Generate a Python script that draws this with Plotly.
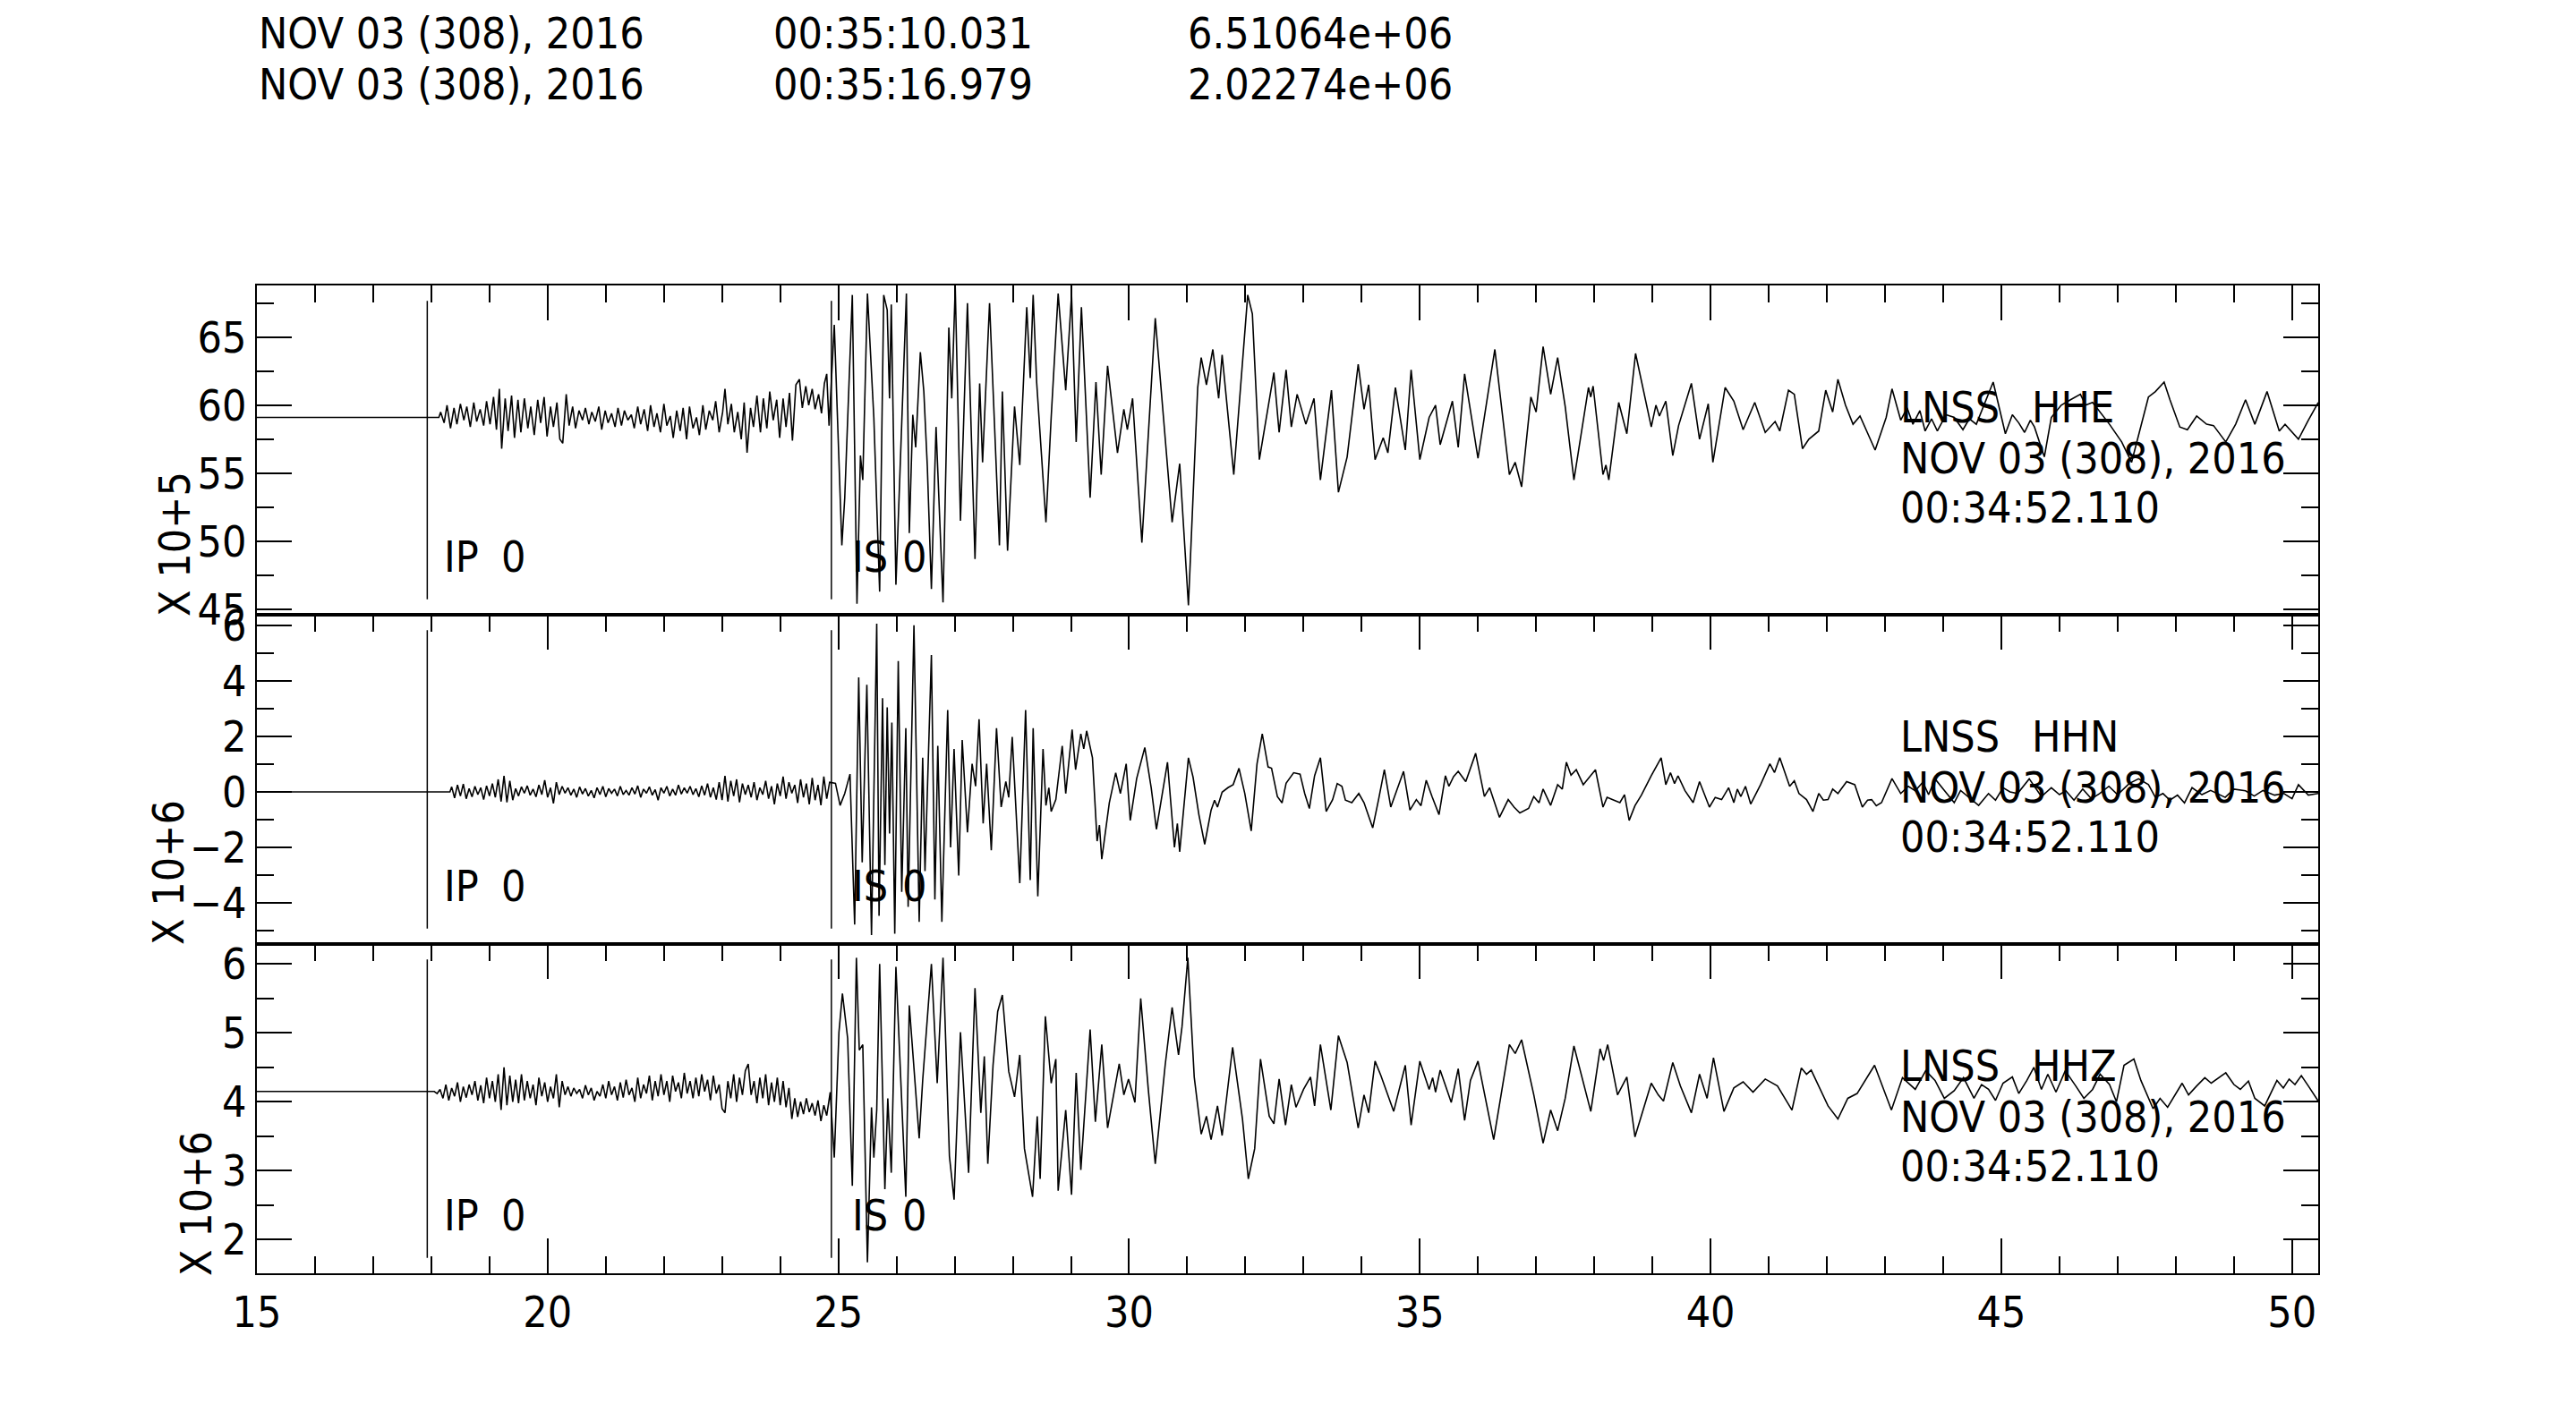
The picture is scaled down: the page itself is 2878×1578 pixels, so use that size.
import plotly.graph_objects as go

# SAC-style three component record, LNSS station

# header: picked times and amplitudes
pick_dates = ["NOV 03 (308), 2016", "NOV 03 (308), 2016"]
pick_times = ["00:35:10.031", "00:35:16.979"]
pick_amps = ["6.51064e+06", "2.02274e+06"]

station = "LNSS"
channels = ["HHE", "HHN", "HHZ"]
ref_date = "NOV 03 (308), 2016"
ref_time = "00:34:52.110"
scale_labels = ["X 10+5", "X 10+6", "X 10+6"]

p_pick = 17.93
s_pick = 24.88

# (time s, amplitude in axis units)
hhe = [
    (15.00, 59.1), (18.13, 59.1),
    (18.16, 59.5), (18.22, 58.7), (18.27, 60.0), (18.33, 58.3), (18.39, 59.8), (18.44, 58.6), (18.50, 60.1),
    (18.56, 58.9), (18.61, 59.9), (18.67, 58.4), (18.73, 60.2), (18.78, 58.8), (18.84, 59.7), (18.90, 58.5),
    (18.95, 60.3), (19.01, 58.6), (19.07, 60.6), (19.12, 58.2), (19.17, 61.2), (19.21, 56.8), (19.27, 60.5),
    (19.32, 58.1), (19.38, 60.7), (19.43, 57.6), (19.49, 60.4), (19.54, 58.0), (19.60, 60.5), (19.66, 58.3),
    (19.71, 59.9), (19.77, 57.8), (19.83, 60.4), (19.88, 58.7), (19.94, 60.6), (19.99, 57.7), (20.05, 59.9),
    (20.10, 58.4), (20.16, 60.2), (20.21, 57.5), (20.26, 57.2), (20.32, 60.8), (20.37, 58.5), (20.43, 59.9),
    (20.48, 58.3), (20.54, 59.6), (20.60, 58.9), (20.65, 59.8), (20.71, 58.6), (20.76, 59.5), (20.82, 58.8),
    (20.88, 59.9), (20.93, 58.2), (20.99, 59.6), (21.04, 58.7), (21.10, 59.4), (21.16, 58.4), (21.21, 59.8),
    (21.27, 58.5), (21.32, 59.6), (21.38, 58.9), (21.44, 59.3), (21.49, 58.3), (21.55, 59.9), (21.60, 58.6),
    (21.66, 59.7), (21.72, 58.1), (21.77, 60.0), (21.83, 58.4), (21.88, 59.4), (21.94, 58.0), (22.00, 60.1),
    (22.05, 58.5), (22.11, 59.2), (22.16, 57.6), (22.22, 59.6), (22.28, 58.1), (22.33, 59.8), (22.39, 57.5),
    (22.44, 59.9), (22.50, 58.3), (22.56, 59.1), (22.61, 57.8), (22.67, 60.0), (22.72, 58.2), (22.78, 59.6),
    (22.84, 58.9), (22.89, 60.3), (22.95, 58.0), (23.01, 59.5), (23.05, 61.2), (23.10, 58.6), (23.16, 60.1),
    (23.21, 58.0), (23.27, 59.5), (23.33, 57.5), (23.38, 60.2), (23.43, 56.5), (23.49, 59.8), (23.54, 58.4),
    (23.60, 60.7), (23.66, 58.0), (23.71, 60.5), (23.77, 58.3), (23.82, 61.0), (23.88, 58.9), (23.94, 60.4),
    (23.99, 57.6), (24.05, 60.5), (24.10, 58.4), (24.16, 60.9), (24.21, 57.4), (24.27, 61.5), (24.33, 61.9),
    (24.38, 59.8), (24.44, 61.4), (24.49, 60.0), (24.55, 61.2), (24.60, 59.7), (24.66, 60.8), (24.71, 59.4),
    (24.76, 61.6), (24.80, 62.3), (24.84, 58.5),
    (24.93, 65.9), (25.06, 49.7), (25.11, 53.2), (25.24, 68.1), (25.32, 45.4), (25.38, 56.3), (25.42, 54.5),
    (25.50, 68.2), (25.61, 59.1), (25.71, 46.3), (25.78, 68.1), (25.84, 67.0), (25.88, 60.5), (25.91, 67.4),
    (25.99, 46.8), (26.17, 68.2), (26.22, 50.6), (26.28, 59.3), (26.33, 56.9), (26.41, 63.9), (26.47, 61.0),
    (26.53, 55.5), (26.60, 46.5), (26.68, 58.4), (26.80, 45.5), (26.90, 65.7), (26.95, 60.5), (27.01, 68.7),
    (27.10, 51.5), (27.22, 67.5), (27.35, 48.7), (27.43, 61.6), (27.48, 55.8), (27.60, 67.5), (27.77, 49.7),
    (27.82, 61.0), (27.91, 49.3), (28.03, 59.9), (28.12, 55.6), (28.24, 67.2), (28.30, 62.0), (28.35, 68.1),
    (28.41, 61.7), (28.57, 51.4), (28.66, 59.1), (28.78, 68.2), (28.91, 61.1), (29.01, 68.1), (29.09, 57.3),
    (29.18, 67.2), (29.33, 53.2), (29.43, 61.7), (29.52, 54.9), (29.63, 62.9), (29.80, 56.5), (29.91, 59.7),
    (29.97, 58.2), (30.06, 60.5), (30.22, 49.9), (30.45, 66.4), (30.74, 51.4), (30.87, 55.7), (31.02, 45.3),
    (31.18, 61.3), (31.24, 63.5), (31.33, 61.5), (31.44, 64.1), (31.54, 60.5), (31.60, 63.7), (31.80, 54.9),
    (32.04, 68.1), (32.12, 66.7), (32.24, 56.0), (32.49, 62.4), (32.58, 58.0), (32.70, 62.6), (32.79, 58.4),
    (32.89, 60.8), (33.04, 58.6), (33.18, 60.5), (33.29, 54.5), (33.48, 61.1), (33.60, 53.6), (33.75, 56.2),
    (33.94, 63.0), (34.04, 59.7), (34.12, 61.5), (34.23, 56.0), (34.37, 57.6), (34.45, 56.5), (34.58, 61.3),
    (34.75, 56.7), (34.85, 62.6), (35.00, 56.0), (35.16, 59.1), (35.27, 60.0), (35.35, 57.1), (35.56, 60.3),
    (35.66, 56.9), (35.77, 62.3), (36.00, 56.1), (36.29, 64.1), (36.54, 54.9), (36.64, 55.8), (36.75, 54.0),
    (36.91, 60.6), (37.00, 59.5), (37.12, 64.3), (37.25, 60.8), (37.37, 63.5), (37.50, 59.9),
    (37.65, 54.5), (37.90, 61.3), (37.94, 60.6), (37.98, 61.4), (38.15, 54.9), (38.20, 55.6), (38.25, 54.5),
    (38.42, 60.2), (38.56, 57.9), (38.71, 63.8), (38.98, 58.4), (39.06, 60.0), (39.12, 59.2), (39.23, 60.3),
    (39.35, 56.3), (39.45, 58.5), (39.67, 61.6), (39.81, 57.5), (39.96, 60.1), (40.04, 55.8), (40.25, 61.3),
    (40.40, 60.3), (40.56, 58.2), (40.76, 60.2), (40.94, 58.0), (41.11, 58.8), (41.19, 58.1), (41.34, 61.1),
    (41.44, 60.8), (41.58, 56.8), (41.69, 57.5), (41.86, 58.1), (41.98, 61.1), (42.10, 59.5), (42.19, 61.9),
    (42.32, 60.0), (42.45, 58.6), (42.57, 59.2), (42.83, 56.7), (43.02, 59.1), (43.12, 61.2), (43.27, 58.9),
    (43.38, 59.8), (43.48, 58.6), (43.60, 59.6), (43.69, 58.1), (43.80, 59.0), (43.90, 58.1), (44.05, 59.3),
    (44.19, 59.1), (44.34, 58.2), (44.45, 59.0), (44.57, 58.6), (44.86, 61.7), (45.07, 57.9), (45.19, 59.3),
    (45.30, 58.7), (45.40, 58.0), (45.50, 58.9), (45.57, 58.4), (45.74, 56.2), (45.86, 59.1), (46.03, 60.0),
    (46.19, 60.4), (46.36, 60.8), (46.45, 60.0), (46.57, 60.2), (46.86, 58.6), (47.07, 57.3), (47.24, 55.8),
    (47.36, 57.8), (47.53, 60.6), (47.65, 61.0), (47.80, 61.7), (47.90, 60.4), (48.07, 58.4), (48.20, 58.2),
    (48.36, 59.2), (48.53, 58.6), (48.65, 58.5), (48.86, 57.3), (49.03, 58.6), (49.20, 60.4), (49.36, 58.6),
    (49.57, 61.0), (49.78, 58.1), (49.88, 58.6), (49.99, 58.1), (50.11, 57.5), (50.28, 58.9), (50.45, 60.2),
]

hhn = [
    (15.00, 0.0), (18.32, 0.0),
    (18.35, 0.18), (18.40, -0.22), (18.45, 0.25), (18.50, -0.15), (18.55, 0.28), (18.60, -0.25), (18.65, 0.12),
    (18.70, -0.18), (18.75, 0.20), (18.80, -0.10), (18.85, 0.15), (18.90, -0.28), (18.95, 0.22), (19.00, -0.15),
    (19.05, 0.30), (19.10, -0.20), (19.15, 0.45), (19.20, -0.35), (19.25, 0.58), (19.30, -0.38), (19.35, 0.40),
    (19.40, -0.30), (19.45, 0.12), (19.50, -0.15), (19.55, 0.18), (19.60, -0.05), (19.65, 0.22), (19.70, -0.12),
    (19.75, 0.10), (19.80, -0.18), (19.85, 0.25), (19.90, -0.10), (19.95, 0.42), (20.00, -0.20), (20.05, 0.15),
    (20.10, -0.42), (20.15, 0.35), (20.20, -0.10), (20.25, 0.20), (20.30, -0.05), (20.35, 0.15), (20.40, -0.12),
    (20.45, 0.10), (20.50, -0.20), (20.55, 0.18), (20.60, -0.08), (20.65, 0.12), (20.70, -0.15), (20.75, 0.05),
    (20.80, -0.22), (20.85, 0.15), (20.90, -0.10), (20.95, 0.20), (21.00, -0.18), (21.05, 0.12), (21.10, -0.05),
    (21.15, 0.10), (21.20, -0.15), (21.25, 0.20), (21.30, -0.10), (21.35, 0.05), (21.40, -0.12), (21.45, 0.15),
    (21.50, -0.08), (21.55, 0.22), (21.60, -0.20), (21.65, 0.10), (21.70, -0.05), (21.75, 0.18), (21.80, -0.12),
    (21.85, 0.08), (21.90, -0.30), (21.95, 0.15), (22.00, -0.05), (22.05, 0.20), (22.10, -0.15), (22.15, 0.10),
    (22.20, -0.12), (22.25, 0.25), (22.30, -0.08), (22.35, 0.15), (22.40, -0.05), (22.45, 0.20), (22.50, -0.10),
    (22.55, 0.12), (22.60, -0.18), (22.65, 0.22), (22.70, -0.12), (22.75, 0.30), (22.80, -0.20), (22.85, 0.15),
    (22.90, -0.28), (22.95, 0.35), (23.00, -0.30), (23.05, 0.58), (23.10, -0.35), (23.15, 0.40), (23.20, -0.15),
    (23.25, 0.45), (23.30, -0.38), (23.35, 0.30), (23.40, -0.10), (23.45, 0.25), (23.50, -0.20), (23.55, 0.35),
    (23.60, -0.30), (23.65, 0.15), (23.70, -0.10), (23.75, 0.40), (23.80, -0.25), (23.85, 0.20), (23.90, -0.45),
    (23.95, 0.30), (24.00, -0.15), (24.05, 0.55), (24.10, -0.25), (24.15, 0.35), (24.20, -0.05), (24.25, 0.25),
    (24.30, -0.40), (24.35, 0.45), (24.40, -0.20), (24.45, 0.30), (24.50, -0.45), (24.55, 0.50), (24.60, -0.30),
    (24.65, 0.25), (24.70, -0.48), (24.75, 0.55), (24.80, -0.25), (24.85, 0.35),
    (24.95, 0.31), (25.03, -0.49), (25.11, -0.06), (25.20, 0.64), (25.28, -4.79), (25.35, 4.13), (25.41, -2.54),
    (25.49, 3.86), (25.57, -5.17), (25.66, 6.07), (25.70, -4.47), (25.76, 3.38), (25.80, -2.64), (25.84, 3.05),
    (25.88, -1.50), (25.92, 2.50), (25.97, -5.12), (26.03, 4.72), (26.09, -3.61), (26.16, 2.30), (26.20, -4.15),
    (26.30, 6.01), (26.39, -4.69), (26.45, 1.23), (26.49, -2.86), (26.60, 4.94), (26.66, -3.88), (26.71, 1.66),
    (26.78, -4.69), (26.88, 2.95), (26.93, -2.00), (26.99, 1.55), (27.07, -3.02), (27.13, 1.87), (27.22, -1.46),
    (27.30, 1.01), (27.36, 0.20), (27.42, 2.62), (27.49, -1.14), (27.55, 1.01), (27.63, -2.11), (27.72, 2.30),
    (27.80, -0.55), (27.88, 0.37), (27.93, -0.20), (27.99, 1.98), (28.12, -3.29), (28.22, 2.95), (28.30, -3.18),
    (28.35, 2.30), (28.43, -3.77), (28.52, 1.55), (28.57, -0.49), (28.62, 0.15), (28.66, -0.71), (28.74, -0.28),
    (28.85, 1.66), (28.91, -0.06), (29.02, 2.25), (29.08, 0.80), (29.17, 2.09), (29.22, 1.55), (29.27, 2.20),
    (29.37, 1.23), (29.45, -1.78), (29.49, -1.20), (29.53, -2.43), (29.66, -0.39), (29.77, 0.69), (29.85, -0.06),
    (29.95, 1.01), (30.02, -1.03), (30.13, 0.48), (30.27, 1.60), (30.38, 0.15), (30.47, -1.35), (30.55, -0.28),
    (30.66, 1.07), (30.78, -2.00), (30.83, -1.14), (30.87, -2.16), (31.02, 1.23), (31.10, 0.53), (31.20, -0.82),
    (31.30, -1.89), (31.41, -0.66), (31.47, -0.30), (31.52, -0.55), (31.60, -0.01), (31.70, 0.15), (31.79, 0.26),
    (31.89, 0.85), (31.99, -0.06), (32.10, -1.41), (32.20, 1.01), (32.29, 2.09), (32.39, 0.90), (32.45, 0.85),
    (32.55, -0.17), (32.63, -0.40), (32.70, 0.31), (32.83, 0.69), (32.94, 0.64), (33.02, -0.06), (33.10, -0.60),
    (33.19, 0.58), (33.29, 1.23), (33.39, -0.71), (33.50, -0.28), (33.58, 0.30), (33.66, 0.20), (33.72, -0.30),
    (33.83, -0.39), (33.95, -0.06), (34.04, -0.39), (34.19, -1.30), (34.29, -0.28), (34.39, 0.80), (34.50, -0.55),
    (34.60, 0.04), (34.72, 0.74), (34.83, -0.66), (34.94, -0.28), (35.02, -0.50), (35.11, 0.42), (35.21, -0.17),
    (35.33, -0.82), (35.44, 0.58), (35.50, 0.20), (35.58, 0.55), (35.66, 0.74), (35.79, 0.37), (35.96, 1.39),
    (36.11, -0.17), (36.20, 0.15), (36.37, -0.92), (36.52, -0.28), (36.62, -0.55), (36.72, -0.76), (36.87, -0.60),
    (36.96, -0.17), (37.05, -0.40), (37.12, 0.10), (37.25, -0.49), (37.37, 0.26), (37.45, 0.10), (37.52, 1.07),
    (37.60, 0.60), (37.69, 0.80), (37.81, 0.26), (37.90, 0.50), (38.02, 0.80), (38.15, -0.55), (38.22, -0.20),
    (38.31, -0.28), (38.44, -0.39), (38.52, -0.10), (38.60, -1.03), (38.70, -0.50), (38.81, -0.12), (38.98, 0.58),
    (39.15, 1.23), (39.23, 0.26), (39.31, 0.69), (39.38, 0.30), (39.44, 0.58), (39.56, 0.04), (39.70, -0.39),
    (39.81, 0.37), (39.98, -0.55), (40.08, -0.20), (40.19, -0.28), (40.31, 0.15), (40.40, -0.39), (40.46, 0.10),
    (40.52, -0.17), (40.60, 0.20), (40.69, -0.44), (40.86, 0.26), (41.02, 1.01), (41.10, 0.70), (41.19, 1.23),
    (41.36, 0.20), (41.44, 0.40), (41.52, -0.06), (41.65, -0.28), (41.76, -0.71), (41.86, -0.06), (41.94, -0.30),
    (42.02, -0.28), (42.10, 0.10), (42.19, -0.06), (42.34, 0.37), (42.48, 0.26), (42.61, -0.55), (42.70, -0.30),
    (42.77, -0.28), (42.85, -0.50), (42.94, -0.39), (43.12, 0.48), (43.27, -0.06), (43.40, 0.20), (43.52, 0.04),
    (43.65, 0.35), (43.75, -0.10), (43.86, 0.47), (44.00, 0.10), (44.19, -0.39), (44.30, 0.05), (44.45, -0.20),
    (44.61, -0.49), (44.78, -0.06), (44.90, -0.30), (45.03, 0.15), (45.15, 0.00), (45.28, -0.06), (45.48, 0.47),
    (45.69, -0.17), (45.86, 0.15), (46.00, -0.10), (46.11, 0.04), (46.25, -0.30), (46.40, 0.10), (46.55, -0.25),
    (46.69, -0.06), (46.85, 0.20), (47.00, -0.10), (47.20, 0.30), (47.36, 0.47), (47.53, 0.26), (47.65, -0.20),
    (47.78, -0.06), (47.90, -0.30), (48.03, -0.12), (48.15, -0.40), (48.28, 0.15), (48.45, -0.10), (48.60, 0.05),
    (48.70, -0.06), (48.85, -0.20), (49.00, 0.10), (49.20, 0.04), (49.35, -0.15), (49.50, 0.05), (49.70, -0.12),
    (49.86, -0.06), (50.00, -0.25), (50.11, 0.26), (50.28, -0.12), (50.45, -0.06),
]

hhz = [
    (15.00, 4.15), (18.01, 4.15),
    (18.05, 4.15), (18.10, 4.12), (18.15, 4.18), (18.20, 4.05), (18.25, 4.25), (18.30, 4.02), (18.35, 4.20),
    (18.40, 4.08), (18.45, 4.28), (18.50, 4.00), (18.55, 4.22), (18.60, 4.06), (18.65, 4.25), (18.70, 4.10),
    (18.75, 4.30), (18.80, 4.02), (18.85, 4.24), (18.90, 3.98), (18.95, 4.35), (19.00, 4.05), (19.05, 4.30),
    (19.10, 4.00), (19.15, 4.40), (19.20, 3.88), (19.25, 4.50), (19.30, 3.95), (19.35, 4.38), (19.40, 4.00),
    (19.45, 4.32), (19.50, 3.98), (19.55, 4.40), (19.60, 4.02), (19.65, 4.30), (19.70, 4.05), (19.75, 4.25),
    (19.80, 3.95), (19.85, 4.35), (19.90, 4.08), (19.95, 4.28), (20.00, 4.00), (20.05, 4.22), (20.10, 4.05),
    (20.15, 4.40), (20.20, 3.92), (20.25, 4.30), (20.30, 4.10), (20.35, 4.22), (20.40, 4.08), (20.45, 4.20),
    (20.50, 4.12), (20.55, 4.18), (20.60, 4.05), (20.65, 4.24), (20.70, 4.10), (20.75, 4.20), (20.80, 4.02),
    (20.85, 4.15), (20.90, 4.08), (20.95, 4.25), (21.00, 4.05), (21.05, 4.30), (21.10, 4.10), (21.15, 4.22),
    (21.20, 4.02), (21.25, 4.28), (21.30, 4.06), (21.35, 4.32), (21.40, 4.10), (21.45, 4.20), (21.50, 4.00),
    (21.55, 4.35), (21.60, 4.05), (21.65, 4.25), (21.70, 4.12), (21.75, 4.38), (21.80, 4.02), (21.85, 4.30),
    (21.90, 4.08), (21.95, 4.40), (22.00, 4.10), (22.05, 4.30), (22.10, 4.00), (22.15, 4.38), (22.20, 4.15),
    (22.25, 4.28), (22.30, 4.05), (22.35, 4.42), (22.40, 4.12), (22.45, 4.30), (22.50, 4.05), (22.55, 4.35),
    (22.60, 4.08), (22.65, 4.40), (22.70, 4.15), (22.75, 4.32), (22.80, 4.02), (22.85, 4.38), (22.90, 4.12),
    (22.95, 4.25), (23.00, 3.90), (23.05, 3.84), (23.10, 4.30), (23.15, 4.05), (23.20, 4.40), (23.25, 4.00),
    (23.30, 4.35), (23.35, 4.10), (23.40, 4.45), (23.45, 4.55), (23.50, 4.10), (23.55, 4.30), (23.60, 3.98),
    (23.65, 4.35), (23.70, 4.05), (23.75, 4.40), (23.80, 3.95), (23.85, 4.28), (23.90, 4.00), (23.95, 4.35),
    (24.00, 3.95), (24.05, 4.30), (24.10, 3.92), (24.15, 4.20), (24.20, 3.75), (24.25, 4.05), (24.30, 3.78),
    (24.35, 4.00), (24.40, 3.82), (24.45, 4.05), (24.50, 3.85), (24.55, 3.98), (24.60, 3.80), (24.65, 4.02),
    (24.70, 3.72), (24.75, 3.95), (24.80, 3.80), (24.86, 4.14),
    (24.93, 3.19), (25.01, 5.01), (25.07, 5.57), (25.16, 4.92), (25.24, 2.78), (25.31, 6.09), (25.36, 4.75),
    (25.42, 4.83), (25.50, 1.67), (25.57, 3.92), (25.61, 3.19), (25.66, 3.88), (25.71, 6.00), (25.80, 2.73),
    (25.85, 4.05), (25.91, 2.97), (25.99, 5.96), (26.07, 4.36), (26.16, 2.62), (26.22, 5.40), (26.30, 4.53),
    (26.39, 3.47), (26.45, 4.31), (26.60, 6.00), (26.70, 4.27), (26.80, 6.09), (26.91, 3.21), (26.99, 2.58),
    (27.10, 5.01), (27.24, 2.97), (27.35, 5.65), (27.45, 3.84), (27.51, 4.66), (27.57, 3.10), (27.66, 4.53),
    (27.74, 5.31), (27.82, 5.55), (27.93, 4.44), (28.03, 4.07), (28.12, 4.68), (28.20, 3.32), (28.34, 2.62),
    (28.42, 3.79), (28.47, 2.88), (28.56, 5.24), (28.66, 4.27), (28.74, 4.62), (28.78, 2.71), (28.91, 3.88),
    (29.01, 2.65), (29.09, 4.42), (29.17, 3.01), (29.33, 5.05), (29.42, 3.71), (29.53, 4.83), (29.63, 3.62),
    (29.83, 4.55), (29.91, 4.10), (29.99, 4.33), (30.10, 3.99), (30.20, 5.50), (30.33, 4.18), (30.45, 3.10),
    (30.62, 4.53), (30.74, 5.37), (30.85, 4.68), (30.91, 5.09), (31.01, 6.09), (31.12, 4.36), (31.24, 3.53),
    (31.33, 3.79), (31.41, 3.45), (31.52, 3.94), (31.60, 3.51), (31.78, 4.79), (31.95, 3.75), (32.05, 2.88),
    (32.16, 3.32), (32.26, 4.62), (32.41, 3.79), (32.49, 3.68), (32.58, 4.33), (32.69, 3.66), (32.79, 4.25),
    (32.87, 3.92), (33.00, 4.18), (33.12, 4.36), (33.19, 3.94), (33.29, 4.83), (33.47, 3.88), (33.60, 4.96),
    (33.75, 4.57), (33.94, 3.62), (34.04, 4.10), (34.12, 3.84), (34.23, 4.59), (34.33, 4.38), (34.55, 3.86),
    (34.75, 4.53), (34.85, 3.66), (35.00, 4.59), (35.16, 4.18), (35.22, 4.35), (35.27, 4.14), (35.35, 4.46),
    (35.54, 3.99), (35.66, 4.48), (35.77, 3.73), (35.87, 4.31), (36.00, 4.59), (36.27, 3.45), (36.54, 4.83),
    (36.64, 4.70), (36.75, 4.90), (36.96, 4.10), (37.12, 3.40), (37.25, 3.88), (37.37, 3.58), (37.50, 4.05),
    (37.65, 4.81), (37.94, 3.86), (38.10, 4.77), (38.16, 4.60), (38.23, 4.83), (38.40, 4.10), (38.56, 4.36),
    (38.70, 3.49), (38.98, 4.27), (39.10, 4.10), (39.19, 4.01), (39.35, 4.57), (39.48, 4.23), (39.67, 3.84),
    (39.81, 4.40), (39.94, 4.05), (40.05, 4.64), (40.23, 3.86), (40.40, 4.20), (40.56, 4.29), (40.73, 4.14),
    (40.94, 4.33), (41.15, 4.23), (41.40, 3.88), (41.56, 4.49), (41.65, 4.40), (41.73, 4.46), (42.02, 3.94),
    (42.19, 3.75), (42.36, 4.05), (42.52, 4.12), (42.82, 4.53), (43.11, 3.88), (43.30, 4.35), (43.52, 4.18),
    (43.70, 4.45), (43.86, 4.31), (44.02, 4.05), (44.19, 4.16), (44.35, 4.35), (44.53, 4.05), (44.66, 4.25),
    (44.78, 4.18), (44.90, 4.02), (45.03, 4.27), (45.19, 4.36), (45.30, 4.12), (45.44, 4.31), (45.56, 4.50),
    (45.69, 4.18), (45.80, 4.40), (45.94, 4.14), (46.10, 4.45), (46.28, 4.23), (46.42, 4.05), (46.57, 4.18),
    (46.70, 4.40), (46.86, 4.25), (46.98, 4.00), (47.11, 4.53), (47.28, 4.62), (47.40, 4.31), (47.61, 3.90),
    (47.73, 4.05), (47.86, 3.92), (48.11, 4.27), (48.22, 4.10), (48.36, 4.23), (48.50, 4.35), (48.61, 4.27),
    (48.86, 4.42), (49.00, 4.25), (49.11, 4.18), (49.25, 4.30), (49.36, 4.05), (49.53, 3.94), (49.74, 4.31),
    (49.85, 4.20), (49.95, 4.33), (50.05, 4.25), (50.16, 4.38), (50.28, 4.23), (50.45, 4.01),
]

traces = [hhe, hhn, hhz]
y_ranges = [(44.6, 68.8), (-5.49, 6.39), (1.51, 6.29)]
y_dticks = [5, 2, 1]
x_range = (15.0, 50.45)

# page geometry (plotly sits inside the 8px body margin)
W, H = 2862, 1558
ML, MT = 279, 311
PW, PH = 2303, 1104
FONT = "DejaVu Sans Condensed, DejaVu Sans, sans-serif"
FS = 48


def px(x):
    return (x - 8 - ML) / PW


def py(y):
    return 1 - (y - 8 - MT) / PH


fig = go.Figure()
panel_tops = [319, 687, 1055]

for i, data in enumerate(traces):
    n = "" if i == 0 else str(i + 1)
    t = [d[0] for d in data]
    v = [d[1] for d in data]
    fig.add_trace(go.Scatter(x=t, y=v, mode="lines", xaxis="x" + n, yaxis="y" + n,
                             line=dict(color="black", width=1.6), hoverinfo="skip",
                             showlegend=False))

    top = 1 - i / 3
    bottom = 1 - (i + 1) / 3
    last = i == 2
    fig.update_layout(**{
        "xaxis" + n: dict(
            domain=[0, 1], anchor="y" + n, range=list(x_range),
            side="bottom" if last else "top",
            ticks="inside", ticklen=39, tickwidth=1.5, tickcolor="black",
            tick0=0, dtick=5, showticklabels=last,
            minor=dict(ticks="inside", ticklen=19, tickwidth=1.5, tickcolor="black", tick0=0, dtick=1),
            showline=True, linewidth=2, linecolor="black",
            mirror="ticks" if last else True,
            showgrid=False, zeroline=False,
            tickfont=dict(family=FONT, size=FS, color="black"),
        ),
        "yaxis" + n: dict(
            domain=[bottom, top], anchor="x" + n, range=list(y_ranges[i]),
            ticks="inside", ticklen=39, tickwidth=1.5, tickcolor="black",
            tick0=0, dtick=y_dticks[i],
            minor=dict(ticks="inside", ticklen=19, tickwidth=1.5, tickcolor="black",
                       tick0=0, dtick=y_dticks[i] / 2),
            showline=True, linewidth=2, linecolor="black", mirror="ticks",
            showgrid=False, zeroline=False,
            tickfont=dict(family=FONT, size=FS, color="black"),
        ),
    })

    # P and S pick markers
    for pick in (p_pick, s_pick):
        fig.add_shape(type="line", xref="x" + n, yref="y" + n + " domain",
                      x0=pick, x1=pick, y0=0.047, y1=0.953,
                      line=dict(color="black", width=1.5))

annotations = []


def label(text, x, y, xanchor="left", angle=0):
    annotations.append(dict(text=text, x=px(x), y=py(y), xref="paper", yref="paper",
                            xanchor=xanchor, yanchor="middle", showarrow=False,
                            textangle=angle, font=dict(family=FONT, size=FS, color="black")))


# header rows
for r, yc in enumerate([37, 94]):
    label(pick_dates[r], 287, yc)
    label(pick_times[r], 862, yc)
    label(pick_amps[r], 1325, yc)

scale_pos = [(195, 608), (188, 975), (219, 1345)]
for i, top in enumerate(panel_tops):
    label(station, 2121, top + 136)
    label(channels[i], 2268, top + 136)
    label(ref_date, 2121, top + 193)
    label(ref_time, 2121, top + 248)
    label("IP", 494, top + 303)
    label("0", 558, top + 303)
    label("IS", 950, top + 303)
    label("0", 1006, top + 303)
    label(scale_labels[i], scale_pos[i][0], scale_pos[i][1], xanchor="center", angle=-90)

fig.update_layout(
    width=W, height=H,
    margin=dict(l=ML, r=W - ML - PW, t=MT, b=H - MT - PH),
    paper_bgcolor="white", plot_bgcolor="white",
    annotations=annotations,
    showlegend=False,
)

fig.write_html("out.html", config={"displayModeBar": False})
